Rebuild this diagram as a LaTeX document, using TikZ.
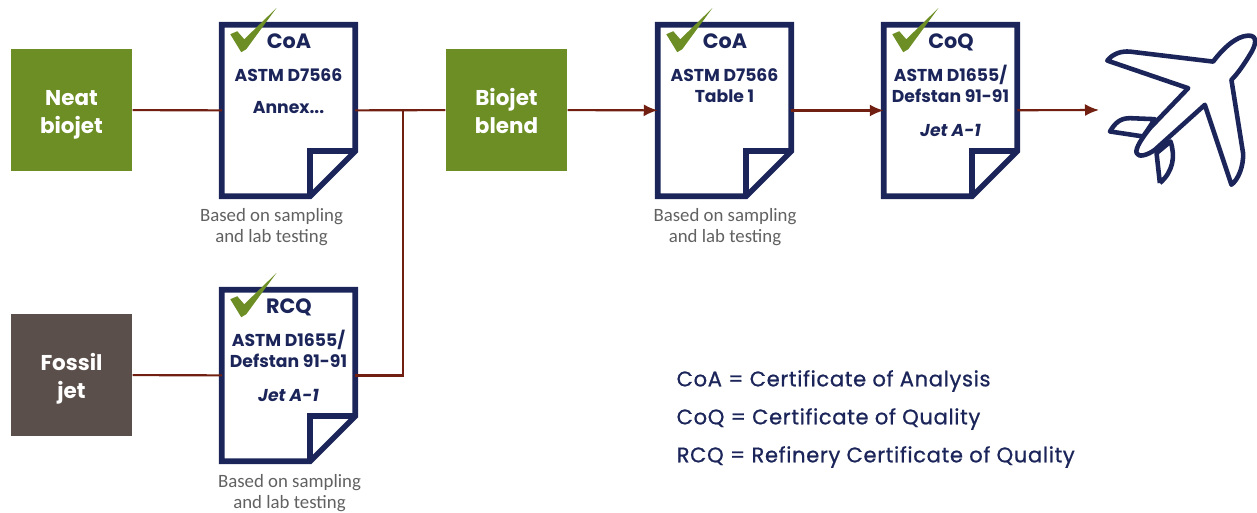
\documentclass[tikz,border=0pt]{standalone}
\usepackage{fontspec}
\usepackage{xcolor}
\setmainfont{Poppins}
\newfontfamily\captionfont{Carlito}
\newfontfamily\legendfont[FakeBold=0.8,LetterSpace=3]{Poppins}
\usetikzlibrary{calc}
\usetikzlibrary{arrows.meta}
\definecolor{docblue}{HTML}{1B2559}
\definecolor{leafgreen}{HTML}{6C8E25}
\definecolor{fossilbrown}{HTML}{5A4F4B}
\definecolor{linered}{HTML}{701F10}
\tikzset{
    fuelbox/.style={minimum width=1.21cm, minimum height=1.22cm, inner sep=0pt},
    fuellabel/.style={inner sep=0pt, align=center, yshift=-0.4mm, text=white,
        font=\fontsize{6.1}{7.9}\selectfont\bfseries},
    docbox/.style={minimum width=1.32cm, minimum height=1.7cm, inner sep=0pt},
    doctitle/.style={text=docblue, inner sep=0pt, anchor=base, font=\fontsize{5.9}{7}\selectfont\bfseries},
    docbody/.style={text=docblue, inner sep=0pt, align=center, font=\fontsize{4.9}{6}\selectfont\bfseries},
    sidenote/.style={text=black!62, inner sep=0pt, align=center, font=\captionfont\fontsize{5.35}{6}\selectfont},
    legend/.style={text=docblue, inner sep=0pt, anchor=west, font=\legendfont\fontsize{6}{7}\selectfont},
    flow/.style={color=linered, line width=0.6pt},
    flowhead/.style={flow, -{Latex[length=1.4mm, width=1.2mm]}},
}
% outline, fold and tick of one certificate
\newcommand{\certdoc}[5]{
    \node[docbox] (#1) at (#2) {};
    \draw[docblue, line width=1.6pt, miter limit=2] (#1.north west) -- (#1.north east) -- ($(#1.south east)+(0,-45)$)
        -- ($(#1.south east)+(-45,0)$) -- (#1.south west) -- cycle;
    \draw[docblue, line width=1.6pt] ($(#1.south east)+(-45,0)$) -- ($(#1.south east)+(-45,-45)$) -- ($(#1.south east)+(0,-45)$);
    \fill[leafgreen] ($(#1.north west)+(8.5,9.5)$) -- ($(#1.north west)+(15.5,6.5)$) -- ($(#1.north west)+(22.5,14.5)$)
        -- ($(#1.north west)+(54.5,-16.5)$) -- ($(#1.north west)+(24.5,24.5)$) -- ($(#1.north west)+(19.5,27.5)$) -- cycle;
    \node[doctitle] (#1title) at ($(#1.north)+(0.5,23.5)$) {#3};
    \node[docbody, anchor=north] (#1body) at ($(#1.north)+(0,#5)$) {#4};
}
\begin{document}
\begin{tikzpicture}[x=0.01cm, y=-0.01cm]
    \useasboundingbox (0, 0) rectangle (1257, 513);

    \node[fuelbox, fill=leafgreen] (neat) at (71.5, 110) {};
    \node[fuelbox, fill=fossilbrown] (fossil) at (71.5, 375) {};
    \node[fuelbox, fill=leafgreen] (blend) at (506.5, 110) {};
    \node[fuellabel] (neattext) at (neat) {\strut Neat\\\strut biojet};
    \node[fuellabel] (fossiltext) at (fossil) {\strut Fossil\\\strut jet};
    \node[fuellabel] (blendtext) at (blend) {\strut Biojet\\\strut blend};

    \certdoc{coaneat}{288.5, 110.5}{CoA}{ASTM D7566\\[3.3pt]Annex...}{43}
    \certdoc{rcq}{288.5, 375.5}{RCQ}{ASTM D1655/\\Defstan 91-91\\[3.6pt]\textit{Jet A-1}}{40}
    \certdoc{coablend}{724.5, 110.5}{CoA}{ASTM D7566\\Table 1}{43}
    \certdoc{coq}{950.5, 110.5}{CoQ}{ASTM D1655/\\Defstan 91-91\\[3.6pt]\textit{Jet A-1}}{40}

    \node[sidenote] (noteneat) at (271.5, 227) {Based on sampling\\and lab testing};
    \node[sidenote] (noterefinery) at (289.5, 493) {Based on sampling\\and lab testing};
    \node[sidenote] (noteblend) at (725, 227) {Based on sampling\\and lab testing};

    \coordinate (join) at (403, 110);
    \coordinate (planeend) at (1099, 110);

    \draw[flow] (neat) -- (coaneat);
    \draw[flow] (fossil) -- (rcq);
    \draw[flow] (coaneat) -- (blend);
    \draw[flow] (rcq) -| (join);
    \draw[flowhead] (blend) -- (coablend);
    \draw[flowhead] (coablend) -- (coq);
    \draw[flowhead] (coq) -- (planeend);

    % plane, traced at three times the scale
    \begin{scope}[shift={(1080, 20)}, x=0.00333cm, y=-0.00333cm]
        \draw[docblue, line width=1.3pt, fill=white, line join=round]
            (90, 335) .. controls (105, 310) and (120, 295) .. (150, 295) -- (225, 298)
            -- (190, 350) -- cycle;
        \draw[docblue, line width=1.3pt, fill=white, line join=round]
            (240, 490) -- (230, 400) -- (272, 365) .. controls (287, 410) and (280, 455) .. (240, 490);
        \draw[docblue, line width=1.3pt, fill=white, line join=round]
            (82, 122) .. controls (100, 100) and (125, 93) .. (150, 95) -- (400, 125)
            .. controls (430, 85) and (470, 48) .. (505, 47)
            .. controls (535, 45) and (530, 75) .. (510, 105)
            .. controls (495, 130) and (475, 160) .. (455, 180)
            -- (490, 400) .. controls (492, 440) and (475, 480) .. (455, 495)
            -- (375, 255) -- (225, 390)
            .. controls (205, 405) and (175, 415) .. (170, 400)
            .. controls (165, 385) and (190, 350) .. (210, 325)
            -- (325, 205) -- cycle;
    \end{scope}

    \node[legend] (legcoa) at (676, 381) {CoA = Certificate of Analysis};
    \node[legend] (legcoq) at (676, 419) {CoQ = Certificate of Quality};
    \node[legend] (legrcq) at (676, 457) {RCQ = Refinery Certificate of Quality};
\end{tikzpicture}
\end{document}
